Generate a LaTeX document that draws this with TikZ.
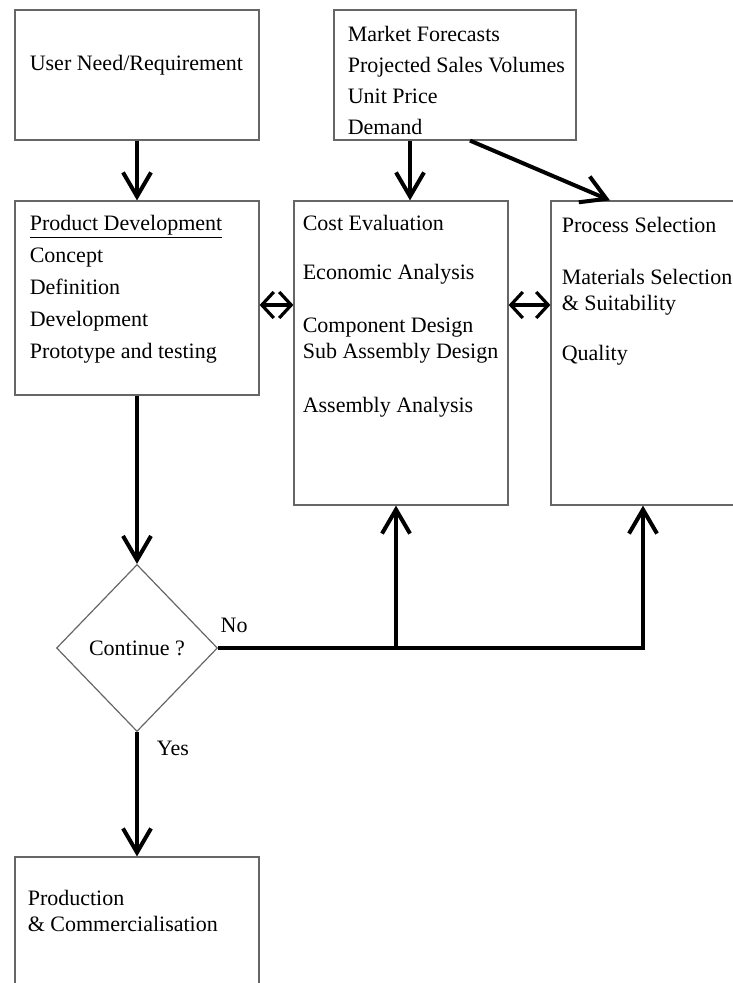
\documentclass[tikz,border=0pt]{standalone}
\usepackage{fontspec}
\setmainfont{Liberation Serif}
\usetikzlibrary{arrows.meta,shapes.geometric}

\begin{document}
\begin{tikzpicture}[x=0.5pt, y=-0.5pt,
  box/.style={draw=black!60, line width=0.6pt, minimum width=122pt},
  txt/.style={anchor=north west, align=left, inner sep=0pt, font=\fontsize{11}{13}\selectfont},
  arr/.style={-{Straight Barb[length=12pt,width=14pt]}, line width=2pt},
  dbl/.style={{Straight Barb[length=6pt,width=13pt]}-{Straight Barb[length=6pt,width=13pt]}, line width=1.6pt},
  lbl/.style={inner sep=0pt, font=\fontsize{11}{13}\selectfont}]

  \useasboundingbox (0,0) rectangle (732,983);

  % Boxes
  \node[box, minimum height=65pt] (need) at (137,75) {};
  \node[box, minimum width=121pt, minimum height=65pt] (market) at (455,75) {};
  \node[box, minimum height=97pt] (prod) at (137,298) {};
  \node[box, minimum width=107pt, minimum height=152pt] (cost) at (401,353) {};
  \node[box, minimum width=110pt, minimum height=152pt] (proc) at (661,353) {};
  \node[box, minimum height=75pt] (comm) at (137,932) {};
  \node[diamond, draw=black!60, line width=0.6pt, minimum width=80.5pt, minimum height=83.5pt,
        inner sep=0pt, font=\fontsize{11}{13}\selectfont] (dia) at (137,648) {Continue ?};

  % Box texts
  \node[txt] (need-t) at ([shift={(15,45)}]need.north west) {User Need/Requirement};
  \node[txt, font=\fontsize{11}{15.5}\selectfont] (market-t) at ([shift={(14,16)}]market.north west)
    {Market Forecasts\\Projected Sales Volumes\\Unit Price\\Demand};
  \node[txt, font=\fontsize{11}{16}\selectfont] (prod-t) at ([shift={(15,14)}]prod.north west)
    {\underline{Product Development}\\Concept\\Definition\\Development\\Prototype and testing};
  \node[txt] (cost-t) at ([shift={(9,14)}]cost.north west)
    {Cost Evaluation\\[11.5pt]Economic Analysis\\[13.5pt]Component Design\\Sub Assembly Design\\[14pt]Assembly Analysis};
  \node[txt] (proc-t) at ([shift={(11,16)}]proc.north west)
    {Process Selection\\[13pt]Materials Selection\\\& Suitability\\[12pt]Quality};
  \node[txt] (comm-t) at ([shift={(13,33)}]comm.north west)
    {Production\\\& Commercialisation};

  % Labels
  \node[lbl] (no) at ([shift={(16,-23)}]dia.east) {No};
  \node[lbl] (yes) at ([shift={(36,16)}]dia.south) {Yes};

  % Arrows
  \draw[arr] (need) -- (prod);
  \draw[arr] ([xshift=-22.5pt]market.south) coordinate (m1) -- (m1 |- cost.north);
  \draw[arr] ([xshift=7.5pt]market.south) -- ([xshift=-25.5pt]proc.north);
  \draw[dbl] ([yshift=-3.5pt]prod.east) coordinate (d1) -- (d1 -| cost.west);
  \draw[dbl] ([yshift=24pt]cost.east) coordinate (d2) -- (d2 -| proc.west);
  \draw[arr] (prod) -- (dia);
  \draw[arr] (dia) -- (comm);

  % No branch
  \draw[arr] (dia.east) -| ([xshift=-9pt]proc.south);
  \draw[arr] ([xshift=-2.5pt]cost.south) coordinate (c1) (dia.east -| c1) -- (c1);

\end{tikzpicture}
\end{document}
